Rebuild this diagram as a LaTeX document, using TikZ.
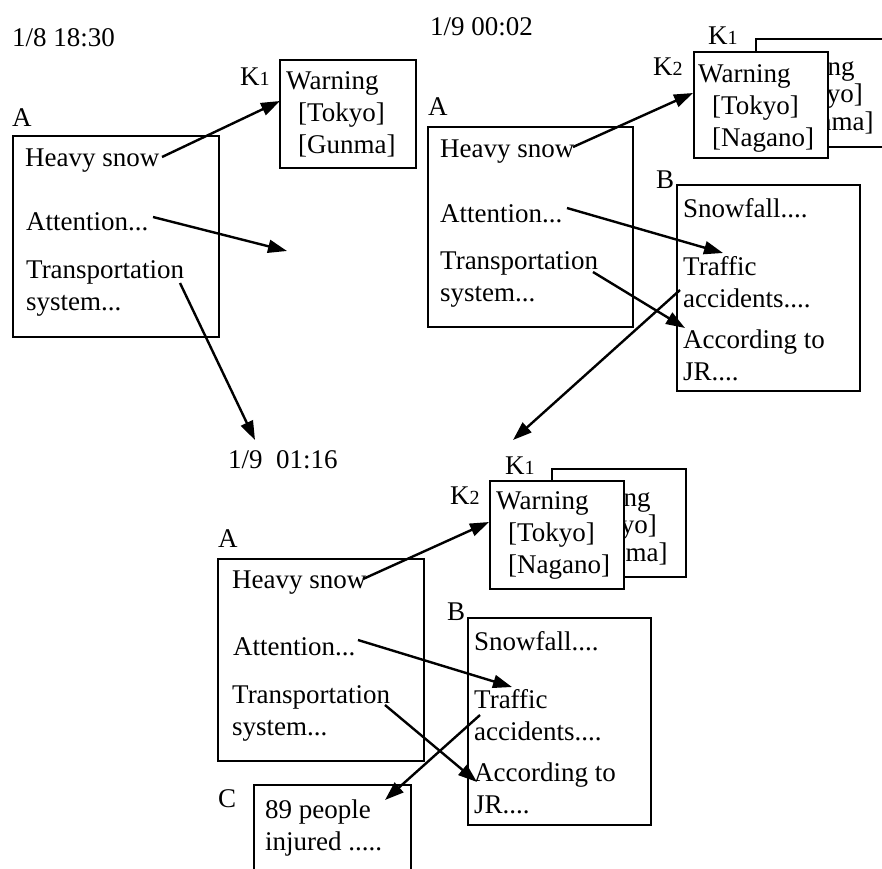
\documentclass[tikz,border=0pt]{standalone}
\usepackage{fontspec}
\setmainfont{Liberation Serif}
\usetikzlibrary{arrows.meta}
\newcommand{\kidx}[1]{K{\fontsize{20}{20}\selectfont #1}}
\begin{document}
\begin{tikzpicture}[x=1pt,y=-1pt,
  % multi-line texts are placed by the baseline of their last line
  txt/.style={anchor=base west,inner sep=0pt,align=left,font=\fontsize{27}{32}\selectfont},
  txtback/.style={anchor=base west,inner sep=0pt,align=left,font=\fontsize{27}{27.5}\selectfont},
  lbl/.style={anchor=base west,inner sep=0pt,font=\fontsize{27}{32}\selectfont},
  frame/.style={draw,line width=2.4pt,fill=white,anchor=north west,inner sep=0pt},
  link/.style={line width=2.4pt,-{Triangle[length=19pt,width=13pt]}},
]
\useasboundingbox (0,0) rectangle (882,868);
\clip (0,0) rectangle (882,868);

% ---------- 1/8 18:30 ----------
\node[lbl] (ta) at (12,46) {1/8 18:30};
\node[lbl] (aLa) at (12,126) {A};
\node[frame,minimum width=206,minimum height=201] (aA) at (12,135) {};
\node[txt] (aHs) at (25,166) {Heavy snow};
\node[txt] (aAt) at (26,230) {Attention...};
\node[txt] (aTr) at (26,310) {Transportation\\system...};
\node[lbl] (aLk1) at (240,85) {\kidx{1}};
\node[frame,minimum width=136,minimum height=108] (aK1) at (279,59) {};
\node[txt] (aW1) at (286,153) {Warning\\\hspace*{12pt}[Tokyo]\\\hspace*{12pt}[Gunma]};

\coordinate (aHsE) at (162,157);
\coordinate (aK1W) at (280,101);
\coordinate (aAtE) at (153,217);
\coordinate (aFree) at (287,251);
\coordinate (aTrE) at (180,283);
\draw[link] (aHsE) -- (aK1W);
\draw[link] (aAtE) -- (aFree);

% ---------- 1/9 00:02 ----------
\node[lbl] (tb) at (430,35) {1/9 00:02};
\node[lbl] (bLa) at (428,115) {A};
\node[frame,minimum width=205,minimum height=200] (bA) at (427,126) {};
\node[txt] (bHs) at (440,157) {Heavy snow};
\node[txt] (bAt) at (440,222) {Attention...};
\node[txt] (bTr) at (440,301) {Transportation\\system...};

\node[lbl] (bLk1) at (708,44) {\kidx{1}};
\node[lbl] (bLk2) at (653,75) {\kidx{2}};
\node[frame,minimum width=136,minimum height=108] (bK1) at (755,38) {};
\node[txtback] (bW1) at (762,130) {Warning\\\hspace*{14pt}[Tokyo]\\\hspace*{14pt}[Gunma]};
\node[frame,minimum width=134,minimum height=106] (bK2) at (693,51) {};
\node[txt] (bW2) at (698,146) {Warning\\\hspace*{14pt}[Tokyo]\\\hspace*{14pt}[Nagano]};

\node[lbl] (bLb) at (656,188) {B};
\node[frame,minimum width=183,minimum height=206] (bB) at (676,184) {};
\node[txt] (bSn) at (683,217) {Snowfall....};
\node[txt] (bTa) at (683,307) {Traffic\\accidents....};
\node[txt] (bJr) at (683,380) {According to\\JR....};

\coordinate (bHsE) at (573,147);
\coordinate (bK2W) at (693,93);
\coordinate (bAtE) at (567,208);
\coordinate (bTaN) at (723,253);
\coordinate (bTrE) at (593,272);
\coordinate (bJrW) at (685,328);
\coordinate (bTaW) at (680,290);
\draw[link] (bHsE) -- (bK2W);
\draw[link] (bAtE) -- (bTaN);
\draw[link] (bTrE) -- (bJrW);

% ---------- 1/9 01:16 ----------
\node[lbl] (tc) at (228,468) {1/9\ \ 01:16};
\node[lbl] (cLk1) at (505,474) {\kidx{1}};
\node[lbl] (cLk2) at (450,504) {\kidx{2}};
\node[frame,minimum width=134,minimum height=108] (cK1) at (551,468) {};
\node[txtback] (cW1) at (558,561) {Warning\\\hspace*{12pt}[Tokyo]\\\hspace*{12pt}[Gunma]};
\node[frame,minimum width=134,minimum height=108] (cK2) at (489,480) {};
\node[txt] (cW2) at (496,573) {Warning\\\hspace*{12pt}[Tokyo]\\\hspace*{12pt}[Nagano]};

\node[lbl] (cLa) at (218,547) {A};
\node[frame,minimum width=206,minimum height=202] (cA) at (217,558) {};
\node[txt] (cHs) at (232,588) {Heavy snow};
\node[txt] (cAt) at (233,655) {Attention...};
\node[txt] (cTr) at (232,735) {Transportation\\system...};

\node[lbl] (cLb) at (447,620) {B};
\node[frame,minimum width=183,minimum height=207] (cB) at (467,617) {};
\node[txt] (cSn) at (474,650) {Snowfall....};
\node[txt] (cTa) at (474,740) {Traffic\\accidents....};
\node[txt] (cJr) at (474,813) {According to\\JR....};

\node[lbl] (cLc) at (218,807) {C};
\node[frame,minimum width=157,minimum height=110] (cC) at (253,784) {};
\node[txt] (cIn) at (265,850) {89 people\\injured .....};

% time links between the panels
\coordinate (cTime) at (255,440);
\coordinate (cK1N) at (513,440);
\draw[link] (aTrE) -- (cTime);
\draw[link] (bTaW) -- (cK1N);

\coordinate (cHsE) at (363,579);
\coordinate (cK2W) at (489,522);
\coordinate (cAtE) at (358,640);
\coordinate (cTaN) at (512,687);
\coordinate (cTrE) at (385,705);
\coordinate (cJrW) at (477,782);
\coordinate (cTaW) at (480,715);
\coordinate (cCNE) at (385,800);
\draw[link] (cHsE) -- (cK2W);
\draw[link] (cAtE) -- (cTaN);
\draw[link] (cTrE) -- (cJrW);
\draw[link] (cTaW) -- (cCNE);
\end{tikzpicture}
\end{document}
